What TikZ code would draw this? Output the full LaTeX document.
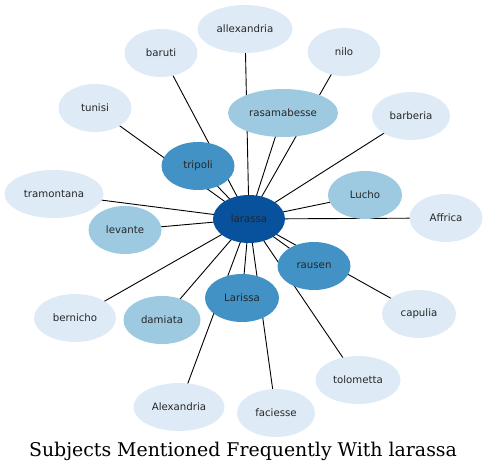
\documentclass[tikz,border=0pt]{standalone}
\usepackage{fontspec}
\newfontfamily\nodefont{DejaVu Sans}
\newfontfamily\titlefont{DejaVu Serif}
\usetikzlibrary{shapes.geometric}
\pgfdeclarelayer{background}
\pgfsetlayers{background,main}
\definecolor{cA}{RGB}{222,235,247}
\definecolor{cB}{RGB}{158,202,225}
\definecolor{cC}{RGB}{66,146,198}
\definecolor{cD}{RGB}{8,81,156}
\tikzset{
  bub/.style={ellipse, draw=none, inner sep=0pt, minimum height=48pt,
    font=\nodefont\fontsize{10.2}{12}\selectfont, text=black!85},
  lt/.style={bub, fill=cA},
  md/.style={bub, fill=cB},
  dk/.style={bub, fill=cC},
  ctr/.style={bub, fill=cD},
  link/.style={draw=black, line width=0.9pt}
}
\begin{document}
\begin{tikzpicture}[x=1pt,y=-1pt]
\useasboundingbox (0,0) rectangle (487,473);
\node[ctr, minimum width=72pt] (larassa) at (249,219) {larassa};
\node[lt, minimum width=95pt] (allexandria) at (245,29) {allexandria};
\node[lt, minimum width=73pt] (baruti) at (161,53) {baruti};
\node[lt, minimum width=73pt] (nilo) at (344,52) {nilo};
\node[md, minimum width=110pt] (rasamabesse) at (283,113) {rasamabesse};
\node[lt, minimum width=73pt] (tunisi) at (95,108) {tunisi};
\node[lt, minimum width=78pt] (barberia) at (411,116) {barberia};
\node[dk, minimum width=73pt] (tripoli) at (198,166) {tripoli};
\node[lt, minimum width=99pt] (tramontana) at (54,194) {tramontana};
\node[md, minimum width=74pt] (Lucho) at (365,195) {Lucho};
\node[lt, minimum width=73pt] (Affrica) at (446,218) {Affrica};
\node[md, minimum width=73pt] (levante) at (125,230) {levante};
\node[dk, minimum width=73pt] (rausen) at (314,266) {rausen};
\node[dk, minimum width=74pt] (Larissa) at (242,298) {Larissa};
\node[lt, minimum width=82pt] (bernicho) at (75,318) {bernicho};
\node[md, minimum width=77pt] (damiata) at (162,320) {damiata};
\node[lt, minimum width=74pt] (capulia) at (419,314) {capulia};
\node[lt, minimum width=85pt] (tolometta) at (358,380) {tolometta};
\node[lt, minimum width=91pt] (Alexandria) at (179,407) {Alexandria};
\node[lt, minimum width=78pt] (faciesse) at (276,413) {faciesse};
\node[font=\titlefont\fontsize{18.9}{21}\selectfont] (title) at (243,451) {Subjects Mentioned Frequently With larassa};
\begin{pgfonlayer}{background}
\foreach \n in {allexandria,baruti,nilo,rasamabesse,tunisi,barberia,tripoli,tramontana,Lucho,Affrica,levante,rausen,Larissa,bernicho,damiata,capulia,tolometta,Alexandria,faciesse}
  \draw[link] (larassa.center) -- (\n.center);
\end{pgfonlayer}
\end{tikzpicture}
\end{document}
